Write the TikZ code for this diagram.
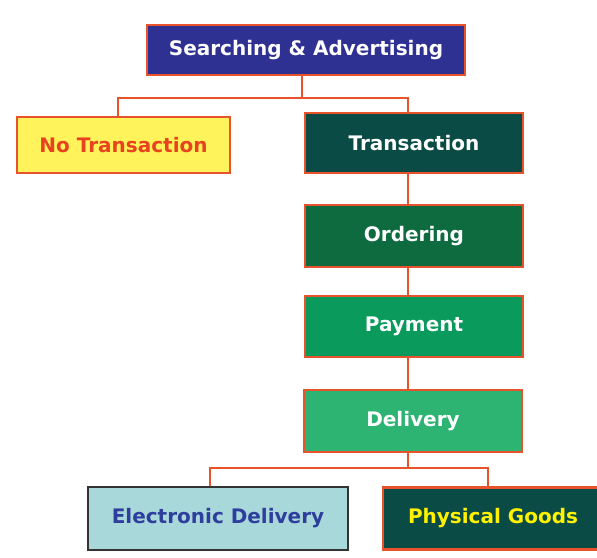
\documentclass[tikz,border=0pt]{standalone}
\usepackage{fontspec}
\setmainfont{DejaVu Sans}

\definecolor{linkred}{HTML}{E8532B}
\definecolor{navy}{HTML}{2E3192}
\definecolor{deepteal}{HTML}{0B4B45}
\definecolor{ordgreen}{HTML}{0E6B40}
\definecolor{paygreen}{HTML}{0A9A5C}
\definecolor{delgreen}{HTML}{2EB472}
\definecolor{lightteal}{HTML}{A9D8DA}
\definecolor{elecblue}{HTML}{2E3E9C}
\definecolor{notrfill}{HTML}{FFF35C}
\definecolor{notrtext}{HTML}{E8421E}
\definecolor{goodsyellow}{HTML}{FFF200}

\begin{document}
\begin{tikzpicture}[x=1pt, y=-1pt,
    box/.style={draw=linkred, line width=2.2pt, inner sep=0pt, text=white,
                font=\bfseries\fontsize{20}{24}\selectfont},
    link/.style={draw=linkred, line width=2.8pt}]
  \useasboundingbox[fill=white] (0,0) rectangle (597,557);

  % --- Top level ---
  \node[box, fill=navy, minimum width=318pt, minimum height=50pt] (search) at (306,50) {Searching \& Advertising};
  \node[box, fill=notrfill, text=notrtext, minimum width=213pt, minimum height=56pt] (notrans) at (123.5,145) {No Transaction};
  \node[box, fill=deepteal, minimum width=218pt, minimum height=60pt] (trans) at (414,143) {Transaction};

  % --- Transaction steps ---
  \node[box, fill=ordgreen, minimum width=218pt, minimum height=62pt] (order) at (414,236) {Ordering};
  \node[box, fill=paygreen, minimum width=218pt, minimum height=61pt] (pay) at (414,326.5) {Payment};
  \node[box, fill=delgreen, minimum width=218pt, minimum height=62pt] (deliv) at (413,421) {Delivery};

  % --- Delivery kinds ---
  \node[box, draw=black!80, fill=lightteal, text=elecblue, minimum width=260pt, minimum height=63pt] (elec) at (218,518.5) {Electronic Delivery};
  \node[box, fill=deepteal, text=goodsyellow, minimum width=220pt, minimum height=62pt] (phys) at (493,518.5) {Physical Goods};

  % Junction points of the connectors
  \coordinate (spine) at (408,0);
  \coordinate (tj) at (302,98);
  \coordinate (nj) at (118,98);
  \coordinate (bj) at (408,468);
  \coordinate (ej) at (210,468);
  \coordinate (pj) at (488,468);

  % Search -> No Transaction / Transaction
  \draw[link] (tj |- search.south) -- (tj);
  \draw[link] (nj |- notrans.north) -- (nj) -- (tj) -| (spine |- trans.north);

  % Transaction chain
  \draw[link] (spine |- trans.south) -- (spine |- order.north);
  \draw[link] (spine |- order.south) -- (spine |- pay.north);
  \draw[link] (spine |- pay.south) -- (spine |- deliv.north);

  % Delivery -> Electronic / Physical
  \draw[link] (spine |- deliv.south) -- (bj);
  \draw[link] (ej |- elec.north) -- (ej) -- (pj) -- (pj |- phys.north);
\end{tikzpicture}
\end{document}
